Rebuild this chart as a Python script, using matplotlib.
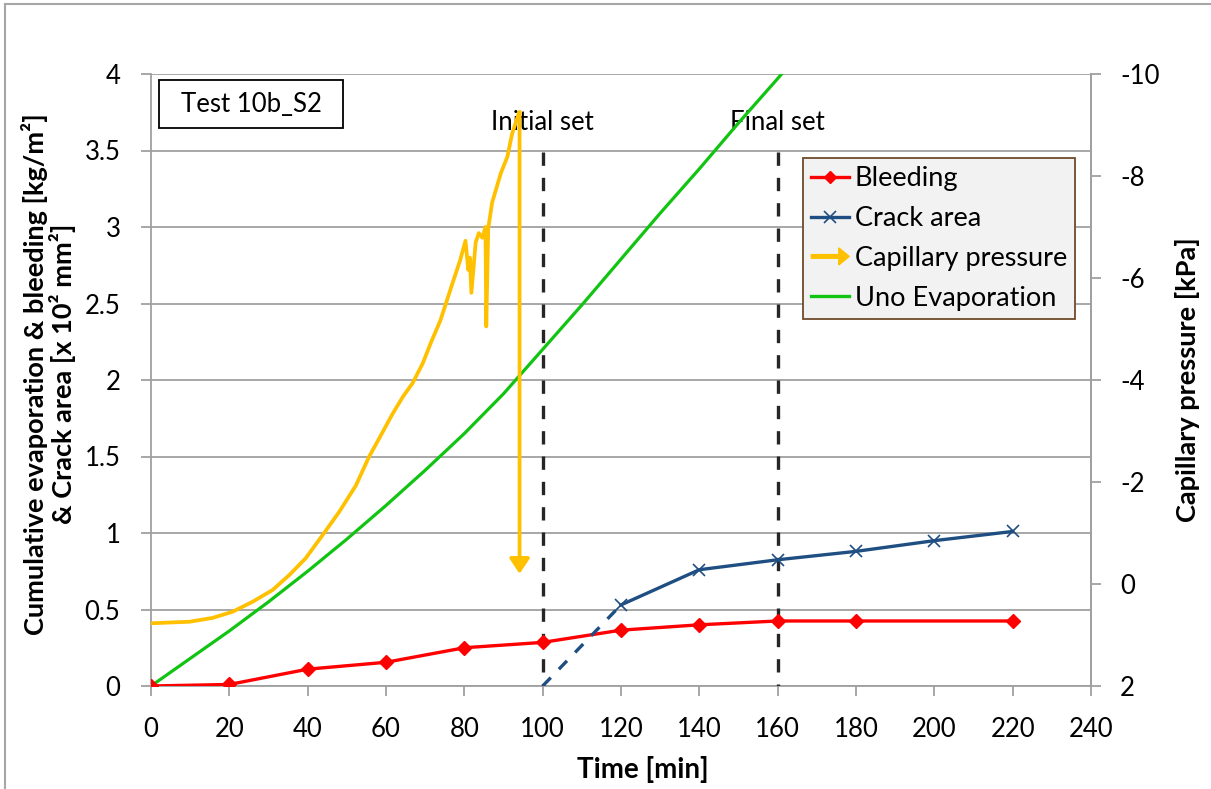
import matplotlib
matplotlib.use("Agg")
import matplotlib.pyplot as plt
import matplotlib.patches as mpatches
from matplotlib.lines import Line2D
from matplotlib.legend_handler import HandlerPatch

plt.rcParams['font.family'] = ['Lato', 'DejaVu Sans']
plt.rcParams['axes.unicode_minus'] = False

# bleeding [kg/m2]
bleed_t = [0, 20, 40, 60, 80, 100, 120, 140, 160, 180, 220]
bleed_v = [0, 0.01, 0.11, 0.155, 0.25, 0.285, 0.365, 0.40, 0.425, 0.425, 0.425]

# crack area [x 10^2 mm2]
crack_t = [120, 140, 160, 180, 200, 220]
crack_v = [0.53, 0.76, 0.825, 0.88, 0.95, 1.01]
crack_start_t = [100, 120]
crack_start_v = [0, 0.53]

# uno evaporation [kg/m2]
evap_t = [0, 10, 20, 30, 40, 50, 60, 70, 80, 90, 100, 110, 120, 130, 140,
          150, 160, 165]
evap_v = [0, 0.18, 0.36, 0.55, 0.75, 0.96, 1.18, 1.41, 1.65, 1.91, 2.2, 2.49,
          2.79, 3.09, 3.38, 3.68, 3.97, 4.12]

# capillary pressure [kPa]
cap_t = [0, 9.8, 15.7, 20.8, 25.9, 31, 35.3, 39.5, 44.2, 48.1, 52.3, 55.7,
         58.3, 61.7, 64.3, 66.8, 69.4, 71.4, 73.9, 77.2, 78.9, 80.3, 81, 81.4,
         81.8, 82.9, 83.7, 84.6, 85.4, 85.6, 86.1, 87.1, 89.3, 91, 92.2, 94.0]
cap_p = [0.77, 0.74, 0.665, 0.545, 0.35, 0.12, -0.175, -0.505, -1.0, -1.42,
         -1.93, -2.5, -2.86, -3.34, -3.67, -3.94, -4.33, -4.72, -5.17, -5.95,
         -6.34, -6.73, -6.16, -6.40, -5.71, -6.70, -6.88, -6.79, -7.0, -5.05,
         -6.97, -7.48, -8.05, -8.38, -8.83, -9.25]
cap_drop_t = 94.1
cap_drop_p = -0.2

initial_set = 100
final_set = 160

RED = '#ff0000'
BLUE = '#1f4e83'
YELLOW = '#ffc000'
GREEN = '#11c411'
GRID = '#a0a0a0'
FS = 18.5
LFS = 19.5

fig = plt.figure(figsize=(12.11, 7.89), dpi=100)
ax = fig.add_axes([151 / 1211, 103 / 789, 940 / 1211, 612 / 789])
ax2 = ax.twinx()

# outer chart border
fig.add_artist(Line2D([5 / 1211, 5 / 1211], [0, 1 - 4 / 789], color='#a6a6a6', lw=1.5))
fig.add_artist(Line2D([5 / 1211, 1], [1 - 4 / 789, 1 - 4 / 789], color='#a6a6a6', lw=1.5))

ax.set_xlim(0, 240)
ax.set_ylim(0, 4)
ax.set_xticks(range(0, 241, 20))
ax.set_yticks([0, 0.5, 1, 1.5, 2, 2.5, 3, 3.5, 4])
ax.set_yticklabels(['0', '0.5', '1', '1.5', '2', '2.5', '3', '3.5', '4'])
ax.grid(axis='y', color=GRID, lw=1.3)
ax.set_axisbelow(True)
for s in ['left', 'bottom', 'right']:
    ax.spines[s].set_color(GRID)
    ax.spines[s].set_linewidth(1.3)
ax.spines['top'].set_visible(False)
ax.tick_params(axis='both', colors=GRID, labelcolor='black', labelsize=FS,
               length=7, width=1.3)
ax.tick_params(axis='y', pad=15)
ax.tick_params(axis='x', pad=15)

ax2.set_ylim(2, -10)
ax2.set_yticks(range(2, -11, -2))
for s in ['left', 'bottom', 'right', 'top']:
    ax2.spines[s].set_visible(False)
ax2.spines['right'].set_visible(True)
ax2.spines['right'].set_color(GRID)
ax2.spines['right'].set_linewidth(1.3)
ax2.tick_params(axis='y', colors=GRID, labelcolor='black', labelsize=FS,
                length=7, width=1.3, pad=14)

# set times, dashes start from the top end
for t in [initial_set, final_set]:
    ax.plot([t, t], [3.49, 0], color='#262626', lw=2.4, ls=(0, (4, 3.6)), zorder=3)
ax.text(initial_set, 3.68, 'Initial set', ha='center', va='center', fontsize=FS)
ax.text(final_set, 3.68, 'Final set', ha='center', va='center', fontsize=FS)

ax.plot(evap_t, evap_v, color=GREEN, lw=2.3, zorder=4)
ax.plot(bleed_t, bleed_v, color=RED, lw=2.4, marker='D', ms=7, zorder=5)
ax.plot(crack_start_t, crack_start_v, color=BLUE, lw=2.4, ls=(0, (3.5, 3.5)), zorder=5)
ax.plot(crack_t, crack_v, color=BLUE, lw=2.4, marker='x', ms=8, mew=1.2, zorder=5)

ax2.plot(cap_t + [cap_drop_t], cap_p + [cap_p[-1]], color=YELLOW, lw=2.7,
         solid_joinstyle='round')
ax2.annotate('', xy=(cap_drop_t, cap_drop_p), xytext=(cap_drop_t, cap_p[-1]),
             arrowprops=dict(arrowstyle='-|>,head_width=0.3,head_length=0.45',
                             color=YELLOW, lw=2.7, shrinkA=0, shrinkB=0,
                             mutation_scale=20))

# test name box
ax.add_patch(mpatches.Rectangle((8 / 940, 558 / 612), 184 / 940, 48 / 612,
                                transform=ax.transAxes, fill=False,
                                edgecolor='black', lw=1.3, zorder=6))
ax.text(100 / 940, 582 / 612, 'Test 10b_S2', transform=ax.transAxes,
        ha='center', va='center', fontsize=FS, zorder=6)

ax.set_xlabel('Time [min]', fontsize=LFS + 0.5, fontweight='bold')
ax.xaxis.set_label_coords(492 / 940, -70 / 612)
ax.set_ylabel('Cumulative evaporation & bleeding [kg/m²]\n& Crack area [x 10² mm²]',
              fontsize=LFS, fontweight='bold', linespacing=1.05)
ax.yaxis.set_label_coords(-75 / 940, 0.51)
ax2.set_ylabel('Capillary pressure [kPa]', fontsize=LFS, fontweight='bold')
ax2.yaxis.set_label_coords(1 + 84 / 940, 0.5)


def make_arrow(legend, orig_handle, xdescent, ydescent, width, height, fontsize):
    return mpatches.FancyArrow(0, 0.5 * height, width, 0, width=2.6,
                               length_includes_head=True, head_width=height * 0.9,
                               head_length=height * 0.55, color=YELLOW)


handles = [
    Line2D([], [], color=RED, lw=2.4, marker='D', ms=6),
    Line2D([], [], color=BLUE, lw=2.4, marker='x', ms=8, mew=1.2),
    mpatches.FancyArrow(0, 0, 1, 0, color=YELLOW),
    Line2D([], [], color=GREEN, lw=2.4),
]
labels = ['Bleeding', 'Crack area', 'Capillary pressure', 'Uno Evaporation']
leg = ax2.legend(handles, labels, loc='upper right',
                 bbox_to_anchor=(924 / 940, 528 / 612),
                 bbox_transform=ax.transAxes,
                 fontsize=19.5, frameon=True, fancybox=False, framealpha=1,
                 borderaxespad=0, handlelength=1.4, handletextpad=0.2,
                 labelspacing=0.55, borderpad=0.3,
                 handler_map={mpatches.FancyArrow: HandlerPatch(patch_func=make_arrow)})
leg.get_frame().set_facecolor('#f2f2f2')
leg.get_frame().set_edgecolor('#6e4b2a')
leg.get_frame().set_linewidth(1.3)
leg.set_zorder(10)

fig.savefig('out.png', dpi=100)
